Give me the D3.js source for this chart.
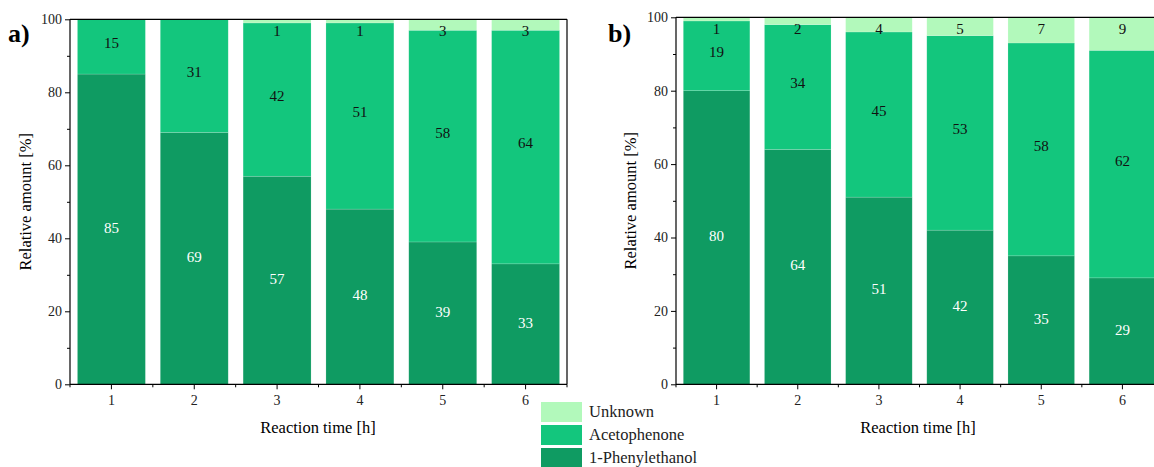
<!DOCTYPE html>
<html lang="en">
<head>
<meta charset="UTF-8">
<title>Relative amount</title>
<script src="https://d3js.org/d3.v7.min.js"></script>
<style>
  body { margin: 0; background: #fff; }
  text { font-family: "Liberation Serif", "Times New Roman", serif; }
</style>
</head>
<body>
<script>
    // data
    var times = ["1", "2", "3", "4", "5", "6"];
    var seriesNames = ["1-Phenylethanol", "Acetophenone", "Unknown"];
    var phenylethanolA = [85, 69, 57, 48, 39, 33];
    var acetophenoneA = [15, 31, 42, 51, 58, 64];
    var unknownA = [0, 0, 1, 1, 3, 3];
    var phenylethanolB = [80, 64, 51, 42, 35, 29];
    var acetophenoneB = [19, 34, 45, 53, 58, 62];
    var unknownB = [1, 2, 4, 5, 7, 9];
    var yTicks = [0, 20, 40, 60, 80, 100];

    var colors = {"1-Phenylethanol": "#0f9b62", "Acetophenone": "#13c67d", "Unknown": "#b2f9bb"};
    var labelColors = {"1-Phenylethanol": "#ffffff", "Acetophenone": "#111111", "Unknown": "#111111"};

    var svg = d3.select("body").append("svg")
        .attr("width", 1154)
        .attr("height", 467);

    function makeRows(p, a, u) {
        return times.map(function (t, i) {
            return {time: t, "1-Phenylethanol": p[i], "Acetophenone": a[i], "Unknown": u[i]};
        });
    }

    function drawPanel(rows, cfg) {
        var g = svg.append("g");
        var x = d3.scaleBand().domain(times).range([cfg.x0, cfg.x1])
            .paddingInner(0.18).paddingOuter(0.09);
        var y = d3.scaleLinear().domain([0, 100]).range([cfg.y0, cfg.y1]);
        var stacked = d3.stack().keys(seriesNames)(rows);

        var layer = g.selectAll(".layer")
            .data(stacked)
            .enter().append("g")
            .attr("fill", function (d) { return colors[d.key]; });

        layer.selectAll("rect")
            .data(function (d) { return d; })
            .enter().append("rect")
            .attr("x", function (d) { return x(d.data.time); })
            .attr("y", function (d) { return y(d[1]); })
            .attr("width", x.bandwidth())
            .attr("height", function (d) { return y(d[0]) - y(d[1]); })
            .attr("stroke", "rgba(255,255,255,0.25)")
            .attr("stroke-width", 0.6);

        // value labels
        stacked.forEach(function (s) {
            g.selectAll(null)
                .data(s.filter(function (d) { return d[1] - d[0] > 0; }))
                .enter().append("text")
                .attr("x", function (d) { return x(d.data.time) + x.bandwidth() / 2; })
                .attr("y", function (d) {
                    if (s.key === "Unknown") return cfg.y1 + 13;
                    return (y(d[0]) + y(d[1])) / 2 - (s.key === "Acetophenone" ? 2 : 0);
                })
                .attr("text-anchor", "middle")
                .attr("dominant-baseline", "middle")
                .attr("font-size", "15px")
                .attr("fill", labelColors[s.key])
                .text(function (d) { return d[1] - d[0]; });
        });

        // y axis
        var yAxis = g.append("g")
            .attr("transform", "translate(" + cfg.x0 + ",0)")
            .call(d3.axisLeft(y).tickValues(yTicks).tickSize(5).tickPadding(3));
        yAxis.append("g").call(d3.axisLeft(y).tickValues(d3.range(10, 100, 20)).tickSize(3).tickFormat(""));
        yAxis.selectAll("text").attr("font-size", "14px").attr("fill", "#222")
            .attr("font-family", "Liberation Serif, serif");
        yAxis.selectAll(".domain").remove();

        // x axis
        var xAxis = g.append("g")
            .attr("transform", "translate(0," + cfg.y0 + ")")
            .call(d3.axisBottom(x).tickSize(5).tickPadding(6));
        xAxis.selectAll("text").attr("font-size", "14px").attr("fill", "#222")
            .attr("font-family", "Liberation Serif, serif");
        xAxis.selectAll(".domain").remove();
        var step = x.step();
        xAxis.selectAll(".minor")
            .data(d3.range(times.length + 1))
            .enter().append("line")
            .attr("x1", function (i) { return cfg.x0 + i * step; })
            .attr("x2", function (i) { return cfg.x0 + i * step; })
            .attr("y1", 0).attr("y2", 3)
            .attr("stroke", "#000");

        // frame
        g.append("line").attr("x1", cfg.x0).attr("x2", cfg.x0)
            .attr("y1", cfg.y0).attr("y2", cfg.y1).attr("stroke", "#000").attr("stroke-width", 1.2);
        g.append("line").attr("x1", cfg.x0).attr("x2", cfg.x1)
            .attr("y1", cfg.y0).attr("y2", cfg.y0).attr("stroke", "#000").attr("stroke-width", 1.2);
        g.append("line").attr("x1", cfg.x0).attr("x2", cfg.x1)
            .attr("y1", cfg.y1).attr("y2", cfg.y1).attr("stroke", "#000").attr("stroke-width", 1.2);
        g.append("line").attr("x1", cfg.x1).attr("x2", cfg.x1)
            .attr("y1", cfg.y0).attr("y2", cfg.y1).attr("stroke", "#000").attr("stroke-width", 1.2);

        // titles
        g.append("text")
            .attr("transform", "translate(" + cfg.ytitleX + "," + ((cfg.y0 + cfg.y1) / 2) + ") rotate(-90)")
            .attr("text-anchor", "middle")
            .attr("font-size", "16.5px")
            .text("Relative amount [%]");
        g.append("text")
            .attr("x", cfg.xtitleX)
            .attr("y", 433)
            .attr("text-anchor", "middle")
            .attr("font-size", "16.5px")
            .text("Reaction time [h]");
        g.append("text")
            .attr("x", cfg.tagX)
            .attr("y", 42)
            .attr("font-size", "26px")
            .attr("font-weight", "bold")
            .text(cfg.tag);
    }

    drawPanel(makeRows(phenylethanolA, acetophenoneA, unknownA),
        {x0: 70, x1: 567, y0: 384.3, y1: 19.3, ytitleX: 31, xtitleX: 318, tagX: 8, tag: "a)"});
    drawPanel(makeRows(phenylethanolB, acetophenoneB, unknownB),
        {x0: 676, x1: 1163, y0: 384.3, y1: 17.3, ytitleX: 636, xtitleX: 918, tagX: 608, tag: "b)"});

    // legend
    var legend = svg.append("g").attr("transform", "translate(541,402)");
    ["Unknown", "Acetophenone", "1-Phenylethanol"].forEach(function (k, i) {
        legend.append("rect")
            .attr("x", 0).attr("y", i * 23)
            .attr("width", 41).attr("height", 20)
            .attr("fill", colors[k]);
        legend.append("text")
            .attr("x", 48).attr("y", i * 23 + 11)
            .attr("dominant-baseline", "middle")
            .attr("font-size", "16.5px")
            .attr("fill", "#222")
            .text(k);
    });
</script>
</body>
</html>
